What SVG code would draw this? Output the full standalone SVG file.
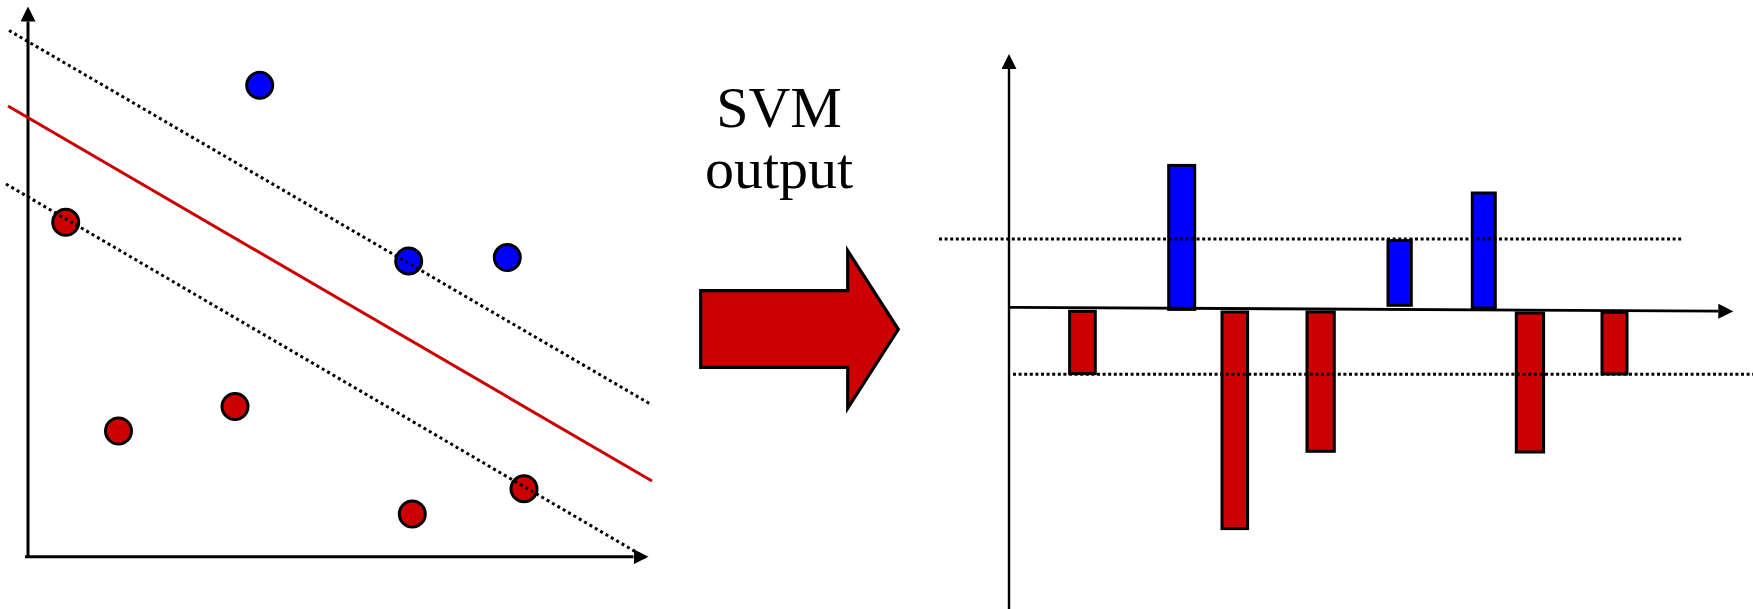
<svg xmlns="http://www.w3.org/2000/svg" width="1753" height="609" viewBox="0 0 1753 609">
  <style>
    .axis { stroke: #000; fill: none; }
    .dot { stroke: #000; stroke-width: 3; fill: none; stroke-dasharray: 3 2.6; }
    .dotd { stroke: #000; stroke-width: 3; fill: none; stroke-dasharray: 3 3.2; }
    .sep { stroke: #CC0000; stroke-width: 3; fill: none; }
    .pos { fill: #0000FF; stroke: #000; stroke-width: 3; }
    .neg { fill: #CC0000; stroke: #000; stroke-width: 3; }
    .lbl { font-family: "Liberation Serif", "Times New Roman", serif; font-size: 58px; fill: #000; text-anchor: middle; }
  </style>
  <defs>
    <marker id="ah" markerUnits="userSpaceOnUse" markerWidth="15" markerHeight="15" viewBox="0 0 15 15" refX="0" refY="7.5" orient="auto">
      <path d="M0,0 L15,7.5 L0,15 z" fill="#000"/>
    </marker>
  </defs>
  <rect width="1753" height="609" fill="#fff"/>

  <!-- Left chart points -->
  <g id="left-points">
    <circle id="b1" class="pos" cx="259.7" cy="85.3" r="13"/>
    <circle id="b2" class="pos" cx="408.7" cy="261" r="13"/>
    <circle id="b3" class="pos" cx="507.3" cy="257.5" r="13"/>
    <circle id="r1" class="neg" cx="65.7" cy="222.3" r="13"/>
    <circle id="r2" class="neg" cx="118.5" cy="431" r="13"/>
    <circle id="r3" class="neg" cx="235" cy="406.5" r="13"/>
    <circle id="r4" class="neg" cx="412.3" cy="514" r="13"/>
    <circle id="r5" class="neg" cx="524" cy="488.7" r="13"/>
  </g>

  <!-- Right chart bars -->
  <g id="bars">
    <rect id="bar1" class="neg" x="1069.6" y="311.3" width="25.7" height="62.3"/>
    <rect id="bar2" class="pos" x="1168.7" y="165.4" width="26" height="144"/>
    <rect id="bar3" class="neg" x="1222" y="312" width="25.6" height="216.6"/>
    <rect id="bar4" class="neg" x="1307" y="312" width="27.3" height="139.3"/>
    <rect id="bar5" class="pos" x="1388" y="240.6" width="23.3" height="64.7"/>
    <rect id="bar6" class="pos" x="1472.3" y="193" width="23" height="115"/>
    <rect id="bar7" class="neg" x="1516.3" y="313" width="27.3" height="139"/>
    <rect id="bar8" class="neg" x="1602" y="312.3" width="25" height="61.7"/>
  </g>

  <!-- Big arrow -->
  <g id="svm-arrow">
    <polygon points="700.7,290.7 847.7,290.7 847.7,250.7 898.3,329.3 847.7,408.3 847.7,367.3 700.7,367.3" fill="#CC0000" stroke="#000" stroke-width="3.2" stroke-linejoin="miter"/>
  </g>

  <g id="label">
    <text class="lbl" x="779" y="126.7">SVM</text>
    <text class="lbl" x="779" y="188.3">output</text>
  </g>

  <!-- Connectors: axes and lines -->
  <g id="connectors">
    <!-- left chart -->
    <line class="axis" stroke-width="3" x1="28" y1="558" x2="28" y2="21.5" marker-end="url(#ah)"/>
    <line class="axis" stroke-width="3" x1="25" y1="556.7" x2="633.5" y2="556.7" marker-end="url(#ah)"/>
    <line class="dotd" x1="9" y1="30.5" x2="652" y2="405"/>
    <line class="sep" x1="8" y1="106" x2="652" y2="481"/>
    <line class="dotd" x1="6" y1="184" x2="648" y2="559"/>
    <!-- right chart -->
    <line class="axis" stroke-width="2.4" x1="1009" y1="609" x2="1009" y2="69" marker-end="url(#ah)"/>
    <line class="axis" stroke-width="2.8" x1="1009" y1="307.3" x2="1718.3" y2="311.2" marker-end="url(#ah)"/>
    <line class="dot" x1="939" y1="239" x2="1683" y2="239"/>
    <line class="dot" x1="1013" y1="374.3" x2="1753" y2="374.3"/>
  </g>
</svg>
